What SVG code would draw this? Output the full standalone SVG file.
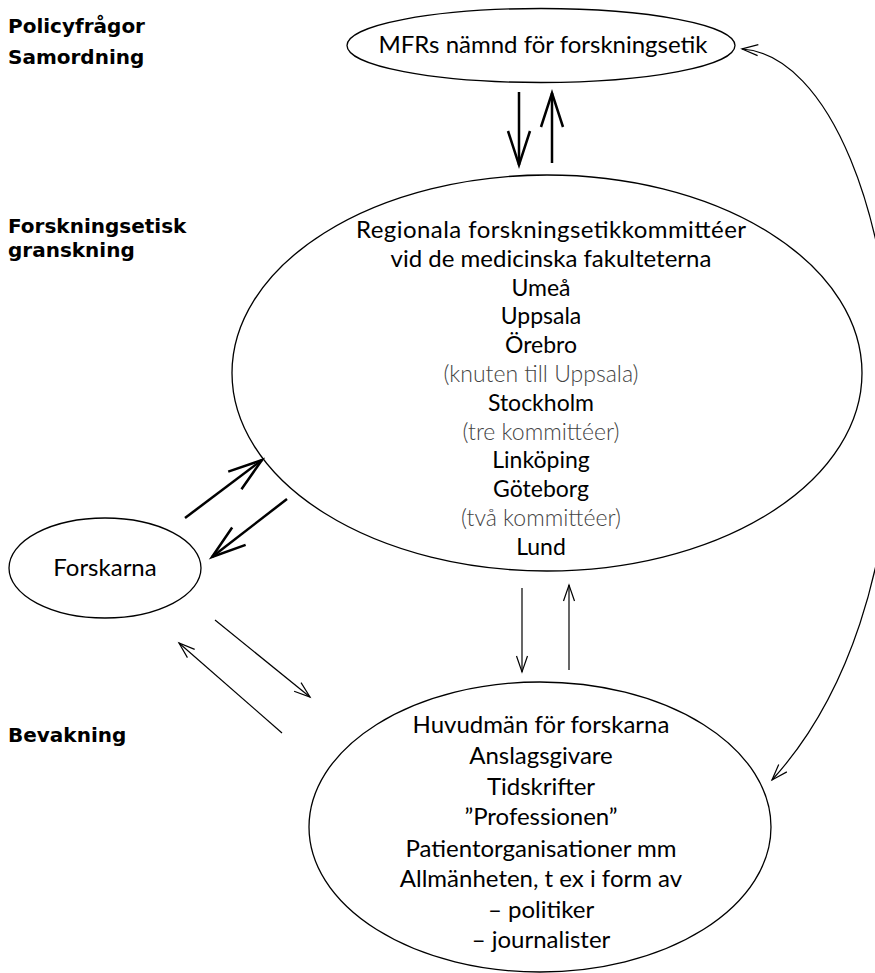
<svg xmlns="http://www.w3.org/2000/svg" width="875" height="973" viewBox="0 0 875 973">
<style>
.bg{fill:#fff}
.node{fill:none;stroke:#000;stroke-width:1.3}
.t{font-family:Lato,"Open Sans","Liberation Sans",sans-serif;font-size:24px;fill:#000;text-anchor:middle}
.s{font-size:23px}
.g{font-family:Lato,"Open Sans","Liberation Sans",sans-serif;font-size:23px;font-weight:300;fill:#444;text-anchor:middle}
.lbl{font-family:"DejaVu Sans","Liberation Sans",sans-serif;font-size:20px;font-weight:bold;fill:#000}
.thick{fill:none;stroke:#000;stroke-width:2.5}
.thin{fill:none;stroke:#000;stroke-width:1.2}
</style>
<defs>
<marker id="ah-thick" markerUnits="userSpaceOnUse" markerWidth="80" markerHeight="80" viewBox="-40 -40 80 80" refX="0" refY="0" orient="auto">
<path d="M-34,-11 L0,0 L-34,11" fill="none" stroke="#000" stroke-width="2.5"/>
</marker>
<marker id="ah-thin" markerUnits="userSpaceOnUse" markerWidth="40" markerHeight="40" viewBox="-20 -20 40 40" refX="0" refY="0" orient="auto">
<path d="M-16,-5.5 L0,0 L-16,5.5" fill="none" stroke="#000" stroke-width="1.2"/>
</marker>
</defs>
<rect class="bg" x="0" y="0" width="875" height="973"/>

<g id="labels">
<text class="lbl" x="8" y="33">Policyfrågor</text>
<text class="lbl" x="8" y="64">Samordning</text>
<text class="lbl" x="8" y="233">Forskningsetisk</text>
<text class="lbl" x="8" y="257">granskning</text>
<text class="lbl" x="8" y="742">Bevakning</text>
</g>

<g id="mfr">
<ellipse class="node" cx="541" cy="45.5" rx="194" ry="37"/>
<text class="t" x="543" y="53">MFRs nämnd för forskningsetik</text>
</g>

<g id="regionala">
<ellipse class="node" cx="547" cy="373" rx="315" ry="198"/>
<text class="t" x="551" y="238" textLength="390" lengthAdjust="spacing">Regionala forskningsetikkommittéer</text>
<text class="t" x="551" y="266.8">vid de medicinska fakulteterna</text>
<text class="t s" x="541" y="295.6">Umeå</text>
<text class="t s" x="541" y="324.4">Uppsala</text>
<text class="t s" x="541" y="353.2">Örebro</text>
<text class="g" x="541" y="382">(knuten till Uppsala)</text>
<text class="t s" x="541" y="410.8">Stockholm</text>
<text class="g" x="541" y="439.6">(tre kommittéer)</text>
<text class="t s" x="541" y="468.4">Linköping</text>
<text class="t s" x="541" y="497.2">Göteborg</text>
<text class="g" x="541" y="526">(två kommittéer)</text>
<text class="t s" x="541" y="554.8">Lund</text>
</g>

<g id="forskarna">
<ellipse class="node" cx="105" cy="568" rx="96" ry="50"/>
<text class="t" x="105" y="576">Forskarna</text>
</g>

<g id="bevakning">
<ellipse class="node" cx="540" cy="827" rx="231" ry="145"/>
<text class="t" x="541" y="733">Huvudmän för forskarna</text>
<text class="t" x="541" y="764">Anslagsgivare</text>
<text class="t" x="541" y="795">Tidskrifter</text>
<text class="t" x="541" y="825">”Professionen”</text>
<text class="t" x="541" y="857">Patientorganisationer mm</text>
<text class="t" x="541" y="887">Allmänheten, t ex i form av</text>
<text class="t" x="541" y="918">– politiker</text>
<text class="t" x="541" y="948">– journalister</text>
</g>

<g id="connectors">
<line class="thick" x1="519" y1="92" x2="519" y2="165" marker-end="url(#ah-thick)"/>
<line class="thick" x1="552" y1="163" x2="552" y2="93" marker-end="url(#ah-thick)"/>
<line class="thick" x1="185" y1="518" x2="262" y2="460" marker-end="url(#ah-thick)"/>
<line class="thick" x1="287" y1="499" x2="212" y2="557" marker-end="url(#ah-thick)"/>
<line class="thin" x1="522" y1="588" x2="522" y2="672" marker-end="url(#ah-thin)"/>
<line class="thin" x1="569" y1="670" x2="569" y2="585" marker-end="url(#ah-thin)"/>
<line class="thin" x1="215" y1="620" x2="310" y2="697" marker-end="url(#ah-thin)"/>
<line class="thin" x1="282" y1="733" x2="179" y2="643" marker-end="url(#ah-thin)"/>
<path class="thin" d="M893,400 C893,220 830,55 742,49" marker-end="url(#ah-thin)"/>
<path class="thin" d="M893,400 C893,570 845,700 772,780" marker-end="url(#ah-thin)"/>
</g>
</svg>
